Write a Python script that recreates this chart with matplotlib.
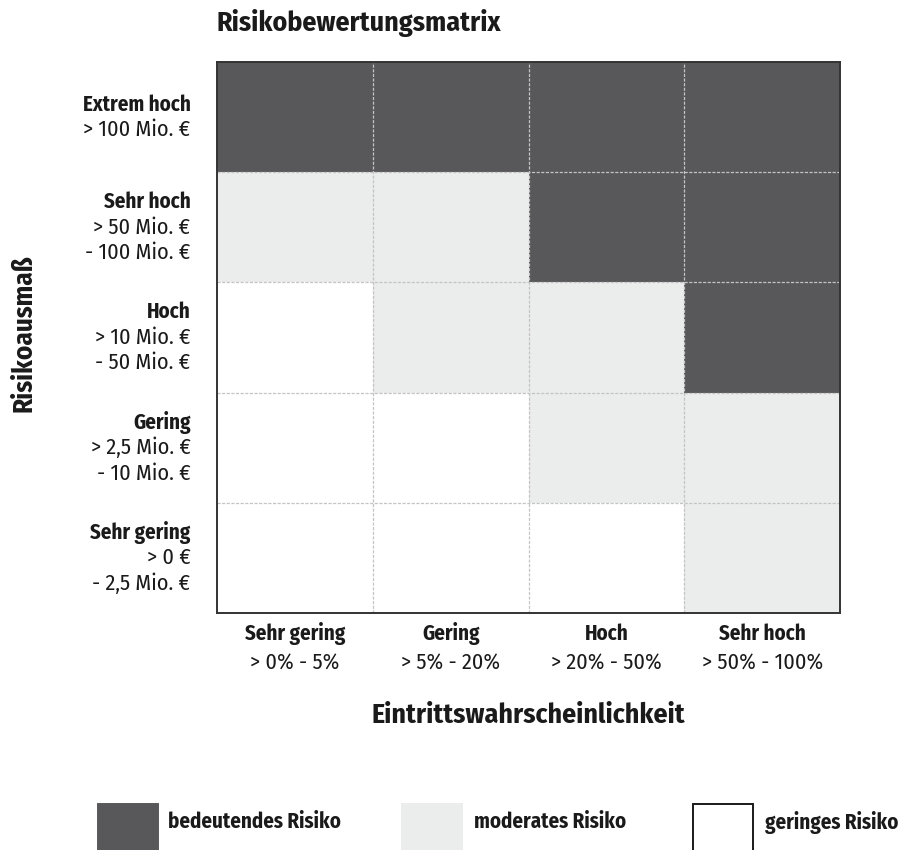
import matplotlib
matplotlib.use("Agg")
import matplotlib.pyplot as plt
import numpy as np
from matplotlib.colors import ListedColormap
from matplotlib.patches import Rectangle
from matplotlib.transforms import blended_transform_factory

plt.rcParams['font.family'] = ['Fira Sans Condensed', 'DejaVu Sans']

# Eintrittswahrscheinlichkeit (columns, left to right)
prob_names = ["Sehr gering", "Gering", "Hoch", "Sehr hoch"]
prob_ranges = ["> 0% - 5%", "> 5% - 20%", "> 20% - 50%", "> 50% - 100%"]

# Risikoausmaß (rows, top to bottom)
impact_names = ["Extrem hoch", "Sehr hoch", "Hoch", "Gering", "Sehr gering"]
impact_ranges = [
    ["> 100 Mio. €"],
    ["> 50 Mio. €", "- 100 Mio. €"],
    ["> 10 Mio. €", "- 50 Mio. €"],
    ["> 2,5 Mio. €", "- 10 Mio. €"],
    ["> 0 €", "- 2,5 Mio. €"],
]

# Risk class per cell: 0 = gering, 1 = moderat, 2 = bedeutend (rows top to bottom)
risk_level = [
    [2, 2, 2, 2],
    [1, 1, 2, 2],
    [0, 1, 1, 2],
    [0, 0, 1, 1],
    [0, 0, 0, 1],
]

legend_labels = ["bedeutendes Risiko", "moderates Risiko", "geringes Risiko"]

c_low, c_mid, c_high = "#ffffff", "#ebecec", "#58585a"
cmap = ListedColormap([c_low, c_mid, c_high])
ink = "#1a1a1a"

fig = plt.figure(figsize=(8.99, 8.5), dpi=100)
ax = fig.add_axes([0.2414, 0.2788, 0.6932, 0.6482])

grid = np.array(risk_level)[::-1]  # bottom row first for the mesh
n_rows, n_cols = grid.shape
ax.pcolormesh(np.arange(n_cols + 1), np.arange(n_rows + 1), grid,
              cmap=cmap, vmin=-0.5, vmax=2.5, shading="flat")
ax.set_xlim(0, n_cols)
ax.set_ylim(0, n_rows)

# dashed cell separators
for x in range(1, n_cols):
    ax.axvline(x, color="#c4c4c4", lw=0.9, ls=(0, (2.5, 1.2)), zorder=3)
for y in range(1, n_rows):
    ax.axhline(y, color="#c4c4c4", lw=0.9, ls=(0, (2.5, 1.2)), zorder=3)

for s in ax.spines.values():
    s.set_color("#333333")
    s.set_linewidth(1.4)
    s.set_zorder(4)

ax.set_xticks([])
ax.set_yticks([])

# row labels: bold name followed by the value range
trans_y = blended_transform_factory(ax.transAxes, ax.transData)
line_h = 0.232
for i, (name, rng) in enumerate(zip(impact_names, impact_ranges)):
    yc = n_rows - i - 0.5
    lines = [(name, "bold")] + [(r, "normal") for r in rng]
    n = len(lines)
    for k, (txt, w) in enumerate(lines):
        yy = yc + ((n - 1) / 2 - k) * line_h
        ax.text(-0.0425, yy, txt, transform=trans_y, ha="right", va="center",
                fontsize=15 if w == "bold" else 16, fontweight=w, color=ink)

# column labels
trans_x = blended_transform_factory(ax.transData, ax.transAxes)
for j, (name, rng) in enumerate(zip(prob_names, prob_ranges)):
    ax.text(j + 0.5, -0.037, name, transform=trans_x, ha="center", va="center",
            fontsize=15, fontweight="bold", color=ink)
    ax.text(j + 0.5, -0.089, rng, transform=trans_x, ha="center", va="center",
            fontsize=16, color=ink)

ax.text(0.5, -0.185, "Eintrittswahrscheinlichkeit", transform=ax.transAxes,
        ha="center", va="center", fontsize=20, fontweight="bold", color=ink)
fig.text(24 / 899, 1 - 333 / 850, "Risikoausmaß", rotation=90, ha="center",
         va="center", fontsize=19.5, fontweight="bold", color=ink)
fig.text(217 / 899, 1 - 23 / 850, "Risikobewertungsmatrix", ha="left",
         va="center", fontsize=20, fontweight="bold", color=ink)

# legend swatches along the bottom edge
swatch_x = [98, 402, 693]
text_x = [168, 474, 765]
swatch_fc = [c_high, c_mid, c_low]
swatch_ec = [c_high, c_mid, ink]
for sx, tx, fc, ec, lab in zip(swatch_x, text_x, swatch_fc, swatch_ec, legend_labels):
    fig.add_artist(Rectangle((sx / 899, -0.05), 60 / 899, 0.05 + 1 - 804 / 850,
                             transform=fig.transFigure, facecolor=fc,
                             edgecolor=ec, lw=1.4))
    fig.text(tx / 899, 1 - 822 / 850, lab, ha="left", va="center",
             fontsize=15, fontweight="bold", color=ink)

fig.savefig("out.png", dpi=100, facecolor="white")
